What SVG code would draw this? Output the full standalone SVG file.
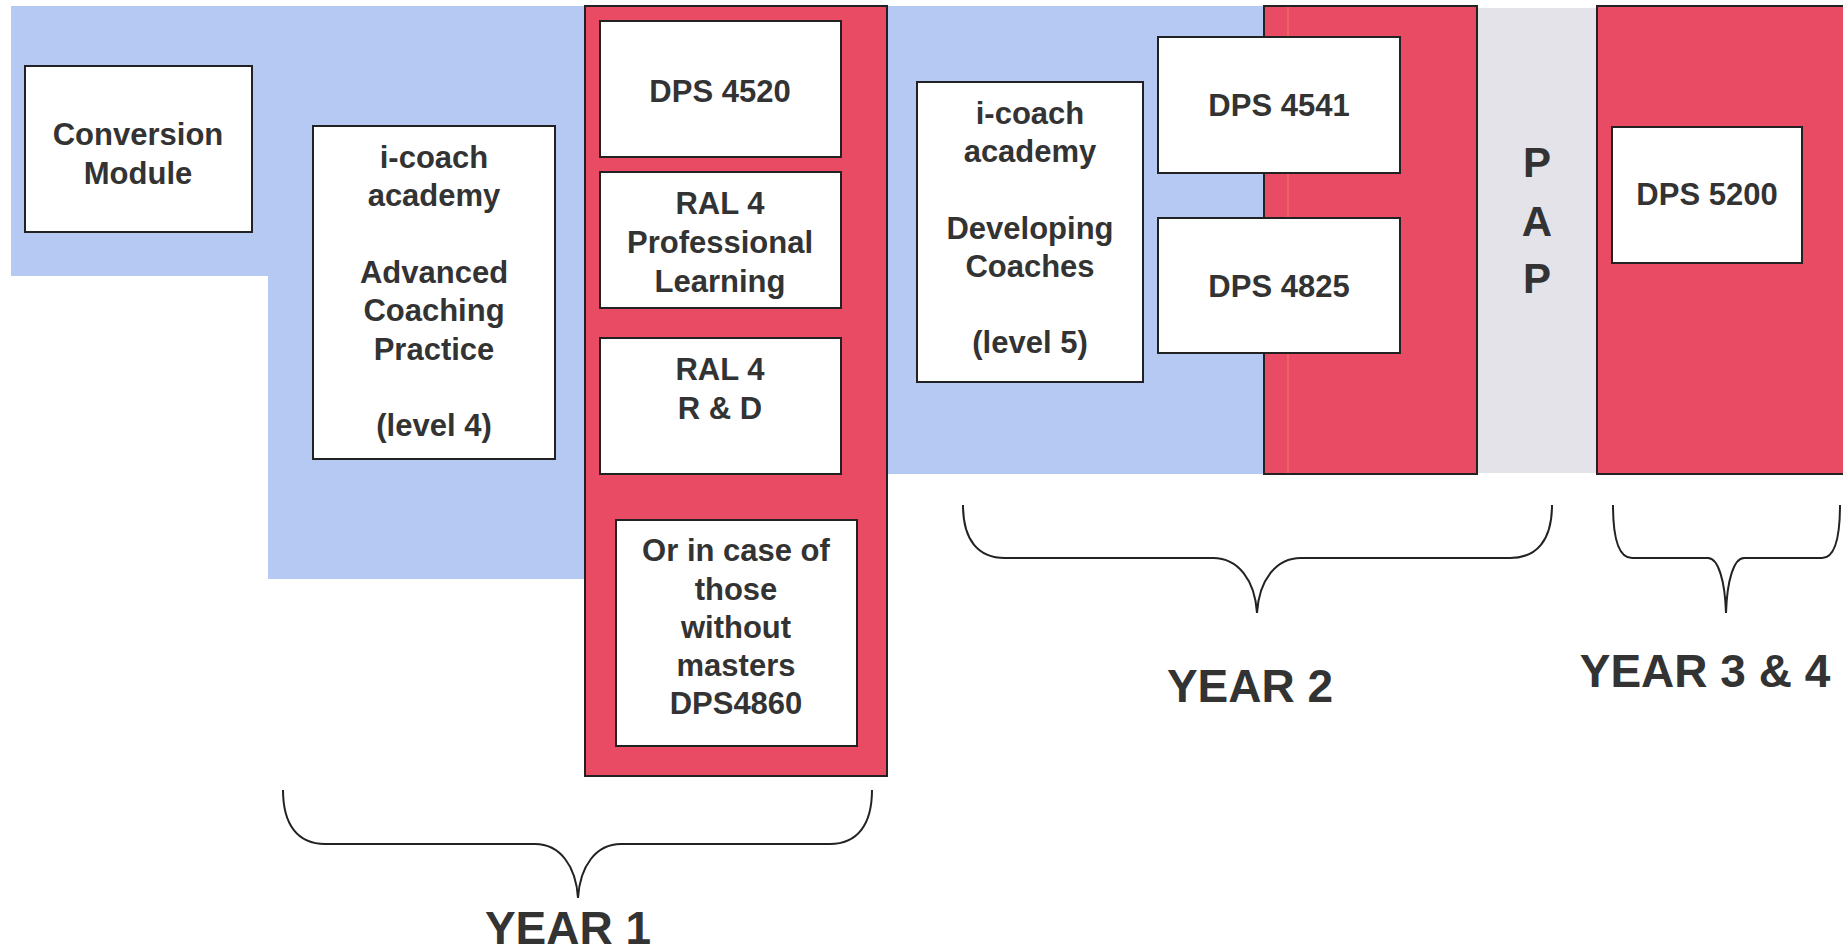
<svg xmlns="http://www.w3.org/2000/svg" width="1843" height="951" viewBox="0 0 1843 951">
<style>
.bg{fill:#ffffff}
.blue{fill:#b5c9f2}
.red{fill:#e84b63;stroke:#222;stroke-width:2}
.gray{fill:#e4e3ea}
.box{fill:#ffffff;stroke:#222;stroke-width:2}
.t{font-family:"Liberation Sans",Arial,Helvetica,sans-serif;font-weight:bold;font-size:31px;fill:#333;text-anchor:middle}
.big{font-size:42px}
.yr{font-size:46px}
.brace{fill:none;stroke:#222;stroke-width:2}
</style>
<rect class="bg" x="0" y="0" width="1843" height="951"/>
<g id="background">
<polygon class="blue" points="11,6 1265,6 1265,474 870,474 870,579 268,579 268,276 11,276"/>
<rect class="red" x="585" y="6" width="302" height="770"/>
<rect class="red" x="1264" y="6" width="213" height="468"/>
<line x1="1288" y1="7" x2="1288" y2="473" stroke="#f0a060" stroke-width="1" opacity="0.6"/>
<rect class="gray" x="1478" y="8" width="119" height="465"/>
<rect class="red" x="1597" y="6" width="250" height="468"/>
</g>
<g id="conversion">
<rect class="box" x="25" y="66" width="227" height="166"/>
<text class="t" x="138" y="145">Conversion</text>
<text class="t" x="138" y="184">Module</text>
</g>
<g id="icoach-advanced">
<rect class="box" x="313" y="126" width="242" height="333"/>
<text class="t" x="434" y="168">i-coach</text>
<text class="t" x="434" y="206">academy</text>
<text class="t" x="434" y="283">Advanced</text>
<text class="t" x="434" y="321">Coaching</text>
<text class="t" x="434" y="360">Practice</text>
<text class="t" x="434" y="436">(level 4)</text>
</g>
<g id="dps4520">
<rect class="box" x="600" y="21" width="241" height="136"/>
<text class="t" x="720" y="102">DPS 4520</text>
</g>
<g id="ral4-pl">
<rect class="box" x="600" y="172" width="241" height="136"/>
<text class="t" x="720" y="214">RAL 4</text>
<text class="t" x="720" y="253">Professional</text>
<text class="t" x="720" y="292">Learning</text>
</g>
<g id="ral4-rd">
<rect class="box" x="600" y="338" width="241" height="136"/>
<text class="t" x="720" y="380">RAL 4</text>
<text class="t" x="720" y="419">R &amp; D</text>
</g>
<g id="dps4860">
<rect class="box" x="616" y="520" width="241" height="226"/>
<text class="t" x="736" y="561">Or in case of</text>
<text class="t" x="736" y="600">those</text>
<text class="t" x="736" y="638">without</text>
<text class="t" x="736" y="676">masters</text>
<text class="t" x="736" y="714">DPS4860</text>
</g>
<g id="icoach-developing">
<rect class="box" x="917" y="82" width="226" height="300"/>
<text class="t" x="1030" y="124">i-coach</text>
<text class="t" x="1030" y="162">academy</text>
<text class="t" x="1030" y="239">Developing</text>
<text class="t" x="1030" y="277">Coaches</text>
<text class="t" x="1030" y="353">(level 5)</text>
</g>
<g id="dps4541">
<rect class="box" x="1158" y="37" width="242" height="136"/>
<text class="t" x="1279" y="116">DPS 4541</text>
</g>
<g id="dps4825">
<rect class="box" x="1158" y="218" width="242" height="135"/>
<text class="t" x="1279" y="297">DPS 4825</text>
</g>
<g id="pap">
<text class="t big" x="1537" y="177">P</text>
<text class="t big" x="1537" y="236">A</text>
<text class="t big" x="1537" y="293">P</text>
</g>
<g id="dps5200">
<rect class="box" x="1612" y="127" width="190" height="136"/>
<text class="t" x="1707" y="205">DPS 5200</text>
</g>
<g id="connectors">
<path class="brace" d="M283,790 C283,825 298,844 325,844 L535,844 C560,844 576,866 578,898 C580,866 596,844 621,844 L830,844 C857,844 872,825 872,790"/>
<path class="brace" d="M963,505 C963,540 978,558 1005,558 L1213,558 C1238,558 1255,580 1257,613 C1259,580 1276,558 1301,558 L1510,558 C1537,558 1552,540 1552,505"/>
<path class="brace" d="M1613,505 C1613,540 1619,558 1632,558 L1708,558 C1718,558 1725,580 1726,613 C1727,580 1734,558 1744,558 L1822,558 C1834,558 1840,540 1840,505"/>
</g>
<g id="labels">
<text class="t yr" x="568" y="944">YEAR 1</text>
<text class="t yr" x="1250" y="702">YEAR 2</text>
<text class="t yr" x="1705" y="687">YEAR 3 &amp; 4</text>
</g>
</svg>
